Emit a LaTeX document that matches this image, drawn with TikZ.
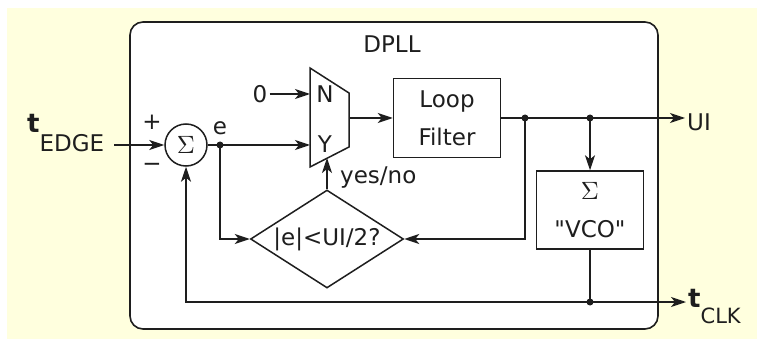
\documentclass[tikz,border=0pt]{standalone}
\usepackage{fontspec}
\setmainfont{DejaVu Sans}
\usetikzlibrary{arrows.meta, positioning, shapes.geometric}
\definecolor{bgyel}{RGB}{255,255,222}
\definecolor{ink}{RGB}{30,30,30}
\newcommand{\bigsig}{{\fontsize{10}{12}\selectfont\scalebox{2.5}{$\Sigma$}}}
\tikzset{
  lab/.style   ={font=\fontsize{23}{26}\selectfont, text=ink, inner sep=2pt},
  blk/.style   ={draw=ink, line width=1.5pt, fill=white},
  box/.style   ={blk, minimum width=107pt, minimum height=79pt, inner sep=0pt,
                 align=center, font=\fontsize{23}{38}\selectfont, text=ink},
  sumc/.style  ={blk, circle, minimum size=42pt, inner sep=0pt, text=ink},
  decide/.style={blk, diamond, minimum width=153pt, minimum height=98pt,
                 inner sep=0pt},
  frame/.style ={draw=ink, line width=1.6pt, fill=white, rounded corners=13pt},
  wire/.style  ={draw=ink, line width=1.5pt},
  flow/.style  ={wire, -{Stealth[length=15pt, width=10pt, inset=4pt]}},
  jn/.style    ={circle, fill=ink, inner sep=0pt, minimum size=7pt},
}
\begin{document}
\begin{tikzpicture}[x=1pt, y=-1pt]
  \useasboundingbox (0,0) rectangle (757,339);
  \fill[bgyel] (7,8) rectangle (757,339);
  % enclosing DPLL block
  \node[frame, minimum width=528pt, minimum height=307pt] (dpll) at (394,175.5) {};
  \node[lab, anchor=base] (title) at (392,53) {DPLL};
  % blocks
  \node[sumc] (sum) at (186,145) {\bigsig};
  \node[box] (loop) at (447,118) {Loop\\Filter};
  \node[box, minimum height=78pt] (vco) at (590,210)
    {\bigsig\\\textquotedbl VCO\textquotedbl};
  \node[decide, label={[lab]center:|e|<UI/2?}] (chk) at (327,239) {};
  % selector (N/Y)
  \draw[blk] (310,68) -- (349,93) -- (349,147) -- (310,167) -- cycle;
  \coordinate (muxN) at (310,94);
  \coordinate (muxY) at (310,145);
  \coordinate (muxO) at (349,118);
  \coordinate (muxS) at (327,158);
  \node[lab] (nlab) at (325,94) {N};
  \node[lab] (ylab) at (325,144) {Y};
  % inputs and outputs
  \node[lab, anchor=base west] (tedge) at (25,133)
    {{\bfseries\fontsize{26}{26}\selectfont t}\raisebox{-19pt}{EDGE}};
  \node[lab] (zero) at (260,94) {0};
  \node[lab] (plus) at (152,122) {+};
  \node[lab] (minus) at (152,167) {−};
  \node[lab, anchor=base west] (ui) at (685,131) {UI};
  \node[lab, anchor=base west] (tclk) at (686,307)
    {{\bfseries\fontsize{26}{26}\selectfont t}\raisebox{-16pt}{\fontsize{21}{22}\selectfont CLK}};
  % junctions
  \coordinate (dotE) at (220,145);
  \coordinate (dotA) at (525,118);
  \coordinate (dotB) at (590,118);
  \coordinate (dotC) at (590,302);
  \node[lab] (elab) at ([yshift=17pt]dotE) {e};
  \node[lab, anchor=base west] (yn) at (338,183) {yes/no};
  % signal flow
  \draw[flow, shorten <=8pt] (tedge.east |- sum.west) -- (sum.west);
  \draw[wire] (sum.east) -- (dotE);
  \draw[flow] (dotE) -- (muxY);
  \draw[flow] (zero) -- (muxN);
  \draw[flow] (muxO) -- (loop.west);
  \draw[wire] (loop.east) -- (dotA) -- (dotB);
  \draw[flow] (dotB) -- (ui.west |- dotB);
  \draw[flow] (dotB) -- (vco.north);
  \draw[flow] (dotA) |- (chk.east);
  \draw[flow] (dotE) |- (chk.west);
  \draw[flow] (chk.north) -- (muxS);
  \draw[wire] (vco.south) -- (dotC);
  \draw[flow] (dotC) -- (tclk.west |- dotC);
  \draw[flow] (dotC) -| (sum.south);
  \foreach \p in {dotE, dotA, dotB, dotC}
    \node[jn] at (\p) {};
\end{tikzpicture}
\end{document}
